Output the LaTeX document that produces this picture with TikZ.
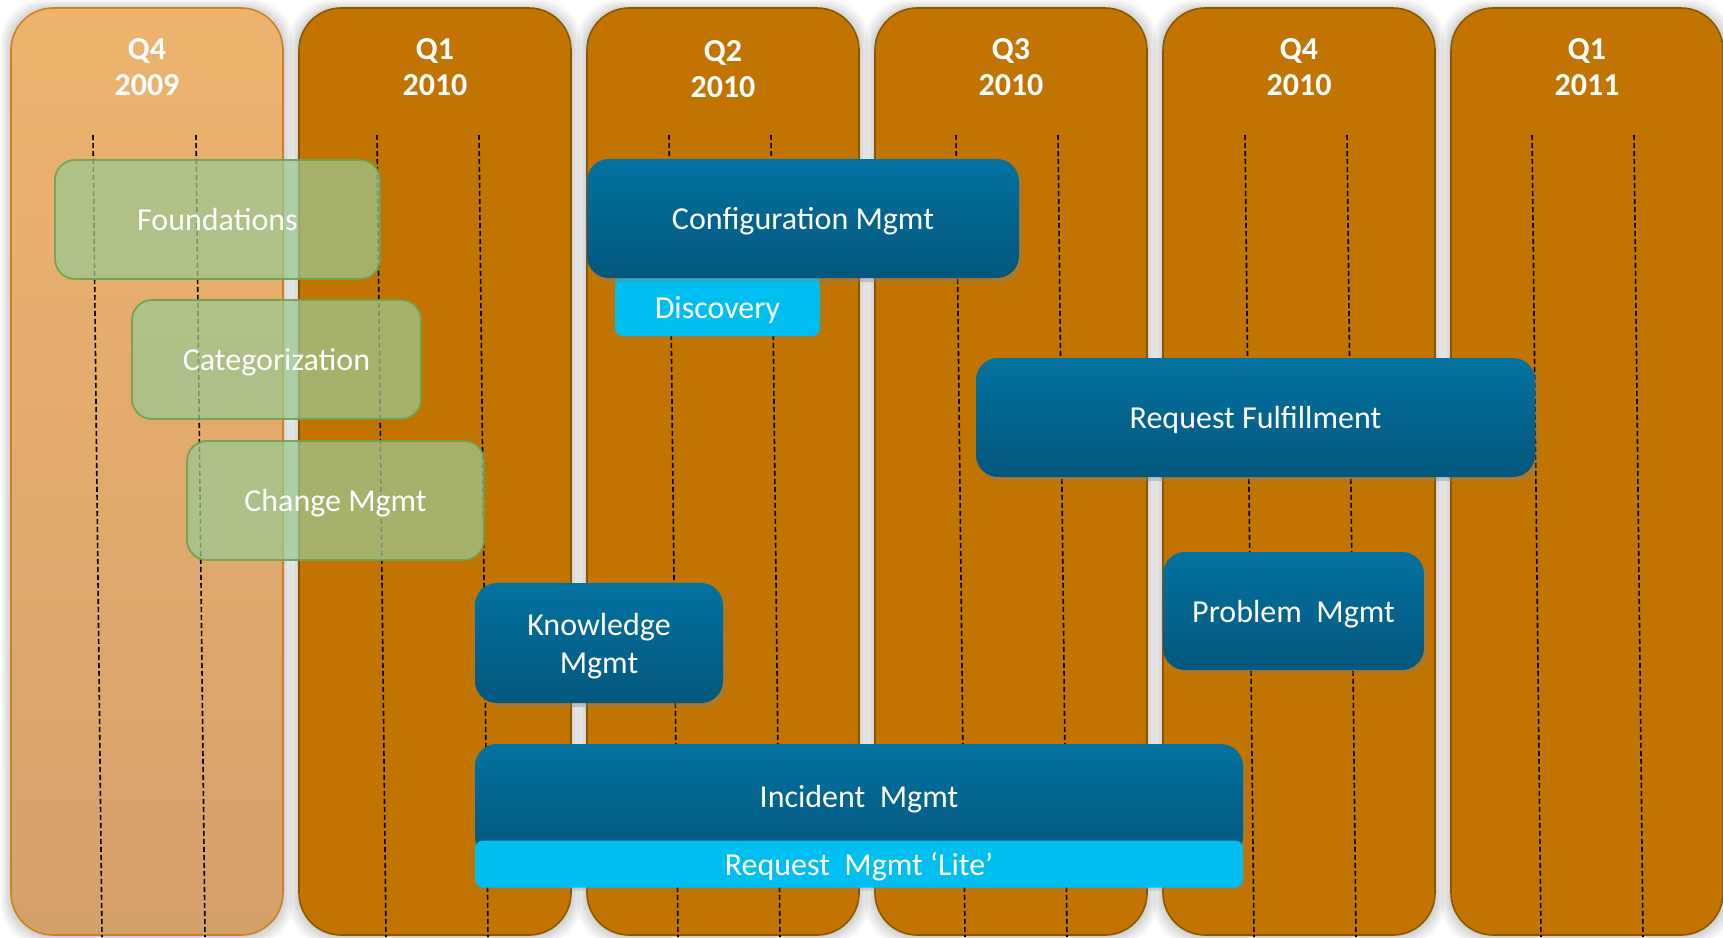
\documentclass[tikz,border=0pt]{standalone}
\usepackage{fontspec}
\setmainfont{Carlito}
\usetikzlibrary{shadows}
\definecolor{colfill}{RGB}{194,116,0}
\definecolor{colline}{RGB}{140,87,0}
\definecolor{firsttop}{RGB}{237,179,110}
\definecolor{firstbot}{RGB}{213,161,106}
\definecolor{firstline}{RGB}{204,130,30}
\definecolor{grfill}{RGB}{157,200,145}
\definecolor{grline}{RGB}{112,160,80}
\definecolor{btop}{RGB}{3,114,161}
\definecolor{bbot}{RGB}{4,87,125}
\definecolor{cyanbox}{RGB}{0,191,240}
\tikzset{
  hdr/.style={text=white, align=center, font=\fontsize{32}{36.5}\selectfont\bfseries, inner sep=0pt},
  txt/.style={text=white, align=center, font=\fontsize{32}{38}\selectfont, inner sep=0pt, text depth=0pt},
  gbox/.style={txt, rectangle, rounded corners=20pt, fill=grfill, fill opacity=0.75, text opacity=1,
     draw=grline, draw opacity=0.9, line width=1.8pt},
  bbox/.style={txt, rectangle, rounded corners=22pt, top color=btop, bottom color=bbot, draw=none,
     drop shadow={shadow xshift=3pt, shadow yshift=-4pt, opacity=0.35}},
  cbox/.style={txt, rectangle, rounded corners=8pt, fill=cyanbox, draw=none,
     drop shadow={shadow xshift=2pt, shadow yshift=-3pt, opacity=0.25}},
  dashline/.style={black, line width=1.6pt, dash pattern=on 5pt off 3pt},
}
\begin{document}
\begin{tikzpicture}[x=1pt,y=-1pt]
\useasboundingbox (0,0) rectangle (1723,937);
\fill[white] (0,0) rectangle (1723,937);
% column shadows
\foreach \i in {0,...,5} {
  \pgfmathsetmacro\L{11+288*\i}
  \foreach \e in {2,4,6,8,10} {
    \fill[black, opacity=0.035, rounded corners=42pt] (\L-\e,8-\e+2) rectangle (\L+272+\e,935+\e);
  }
}
% columns
\draw[top color=firsttop, bottom color=firstbot, draw=firstline, line width=1.6pt, rounded corners=42pt]
  (11,8) rectangle (283,935);
\foreach \i in {1,...,5} {
  \pgfmathsetmacro\L{11+288*\i}
  \draw[fill=colfill, draw=colline, line width=1.6pt, rounded corners=42pt] (\L,8) rectangle (\L+272,935);
}
% dashed guide lines
\foreach \a in {93,196,377,479,669,771,956,1058,1245,1347,1532,1634} {
  \draw[dashline] (\a,135) -- (\a+9,937);
}
% headers
\node[hdr] (h1) at (147,67) {Q4\\2009};
\node[hdr] (h2) at (435,67) {Q1\\2010};
\node[hdr] (h3) at (723,69) {Q2\\2010};
\node[hdr] (h4) at (1011,67) {Q3\\2010};
\node[hdr] (h5) at (1299,67) {Q4\\2010};
\node[hdr] (h6) at (1587,67) {Q1\\2011};
% green boxes
\node[gbox, minimum width=325pt, minimum height=119pt] (found) at (217.5,219.5) {Foundations};
\node[gbox, minimum width=289pt, minimum height=119pt] (categ) at (276.5,359.5) {Categorization};
\node[gbox, minimum width=297pt, minimum height=119pt] (change) at (335.5,500.5) {Change Mgmt};
% blue and cyan boxes
\node[cbox, minimum width=205pt, minimum height=60pt] (disc) at (717.5,306) {};
\node[txt] (disct) at (717.5,307) {Discovery};
\node[bbox, minimum width=432pt, minimum height=119pt] (config) at (803,218.5) {Configuration Mgmt};
\node[bbox, minimum width=559pt, minimum height=119pt] (reqf) at (1255.5,417.5) {Request Fulfillment};
\node[bbox, minimum width=261pt, minimum height=118pt] (prob) at (1293.5,611) {Problem~\ Mgmt};
\node[bbox, minimum width=248pt, minimum height=120pt] (know) at (599,643) {Knowledge\\Mgmt};
\node[bbox, minimum width=768pt, minimum height=114pt] (inc) at (859,801) {};
\node[txt] (inct) at (859,796) {Incident~\ Mgmt};
\node[cbox, minimum width=768pt, minimum height=47pt] (lite) at (859,864) {Request~\ Mgmt ‘Lite’};
\end{tikzpicture}
\end{document}
